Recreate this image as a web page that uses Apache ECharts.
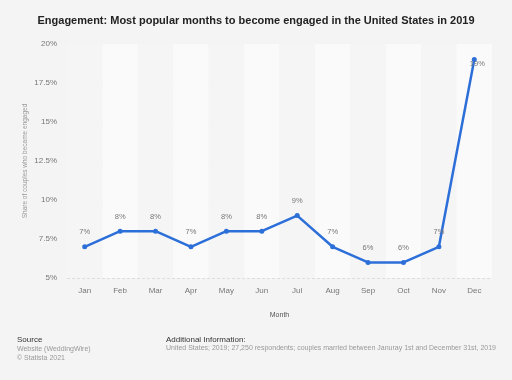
<!DOCTYPE html>
<html><head><meta charset="utf-8">
<script src="https://cdn.jsdelivr.net/npm/echarts@6/dist/echarts.min.js"></script>
<style>html,body{margin:0;padding:0;background:#f4f4f4;}#c{width:512px;height:380px;}</style>
</head><body><div id="c"></div>
<script>
const months = ['Jan','Feb','Mar','Apr','May','Jun','Jul','Aug','Sep','Oct','Nov','Dec'];
const shares = [7,8,8,7,8,8,9,7,6,6,7,19];
const yTicks = ['5%','7.5%','10%','12.5%','15%','17.5%','20%'];

const seriesData = shares.map(function(v,i){
  return i === shares.length-1 ? {value:v,label:{position:'inside',offset:[3,4]}} : v;
});

const chart = echarts.init(document.getElementById('c'), null, {renderer:'canvas'});
chart.setOption({
  backgroundColor:'#f4f4f4',
  animation:false,
  textStyle:{fontFamily:'Liberation Sans, Arial, sans-serif'},
  title:{
    text:'Engagement: Most popular months to become engaged in the United States in 2019',
    left:'center', top:10,
    textStyle:{fontSize:11,fontWeight:'bold',color:'#222'}
  },
  graphic:[
    {type:'text',left:17,top:336,style:{text:'Source',fontSize:8,fill:'#333',fontFamily:'Liberation Sans, Arial, sans-serif'}},
    {type:'text',left:17,top:345,style:{text:'Website (WeddingWire)\n© Statista 2021',fontSize:7,lineHeight:8.5,fill:'#999',fontFamily:'Liberation Sans, Arial, sans-serif'}},
    {type:'text',left:166,top:336,style:{text:'Additional Information:',fontSize:8,fill:'#333',fontFamily:'Liberation Sans, Arial, sans-serif'}},
    {type:'text',left:166,top:345,style:{text:'United States; 2019; 27,250 respondents; couples married between Januray 1st and December 31st, 2019',fontSize:7,fill:'#999',fontFamily:'Liberation Sans, Arial, sans-serif'}}
  ],
  grid:{left:67,right:20,top:44,bottom:102},
  xAxis:{
    type:'category', data:months, boundaryGap:true,
    name:'Month', nameLocation:'middle', nameGap:34, nameMoveOverlap:false,
    nameTextStyle:{fontSize:7,color:'#555'},
    axisLine:{show:false}, axisTick:{show:false},
    axisLabel:{fontSize:8,color:'#777',margin:9},
    splitArea:{show:true,areaStyle:{color:['#f5f5f5','#fafafa']}}
  },
  yAxis:{
    type:'value', min:5, max:20, interval:2.5,
    name:'Share of couples who became engaged', nameLocation:'middle', nameGap:38, nameMoveOverlap:false,
    nameTextStyle:{fontSize:6.5,color:'#999'},
    axisLine:{show:false}, axisTick:{show:false},
    axisLabel:{fontSize:8,color:'#777',margin:10,formatter:function(v){return yTicks[Math.round((v-5)/2.5)];}},
    splitLine:{show:true,lineStyle:{color:'#dedede',type:[3,2],width:1}}
  },
  series:[{
    type:'line', data:seriesData,
    lineStyle:{color:'#2d6fd8',width:2.5},
    itemStyle:{color:'#2d6fd8'},
    symbol:'circle', symbolSize:5,
    label:{show:true,position:'top',distance:8,formatter:'{c}%',fontSize:7.5,color:'#777'}
  }]
});
</script></body></html>
